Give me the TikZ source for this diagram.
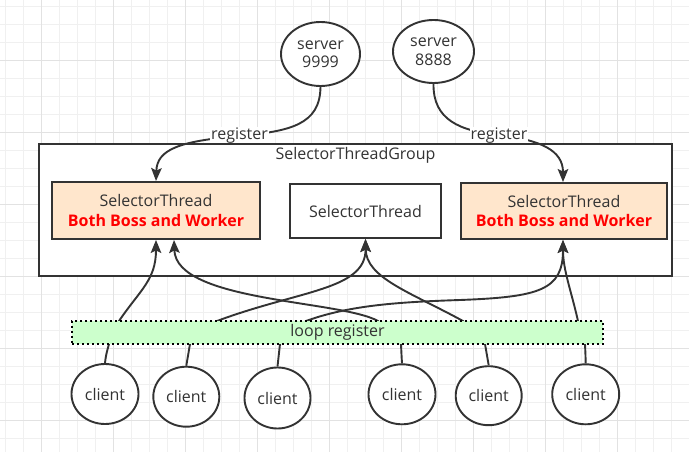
\documentclass[tikz,border=0pt]{standalone}
\usepackage{fontspec}
\setmainfont{Open Sans}
\usetikzlibrary{arrows.meta,shapes.geometric}
\definecolor{linec}{HTML}{333333}
\definecolor{txtc}{HTML}{333333}
\definecolor{orangef}{HTML}{FFE6CC}
\definecolor{greenf}{HTML}{CCFFCC}
\definecolor{gridminor}{HTML}{F0F0F0}
\definecolor{gridmajor}{HTML}{E2E2E2}
\begin{document}
\begin{tikzpicture}[x=1pt,y=-1pt,
  every node/.style={font=\fontsize{16}{18.5}\selectfont, text=txtc, align=center, inner sep=0pt},
  ln/.style={draw=linec, line width=1.9pt},
  arr/.style={ln, -{Stealth[length=13pt,width=10.5pt,inset=2.5pt]}},
  ell/.style={ellipse, draw=linec, line width=1.9pt, fill=white},
  obox/.style={rectangle, draw=linec, line width=1.9pt, fill=orangef},
  wbox/.style={rectangle, draw=linec, line width=1.9pt, fill=white},
  lbl/.style={fill=white, inner xsep=1pt, minimum height=16pt},
]
\useasboundingbox (0,0) rectangle (689,452);
\fill[white] (0,0) rectangle (689,452);
% grid
\foreach \i in {0,...,38} \draw[gridminor, line width=1pt] ({5.3+18*\i},0) -- ({5.3+18*\i},452);
\foreach \i in {0,...,24} \draw[gridminor, line width=1pt] (0,{6.3+18*\i}) -- (689,{6.3+18*\i});
\foreach \i in {0,...,8} \draw[gridmajor, line width=1pt] ({41.3+72*\i},0) -- ({41.3+72*\i},452);
\foreach \i in {0,...,5} \draw[gridmajor, line width=1pt] (0,{60.3+72*\i}) -- (689,{60.3+72*\i});

% group
\node[wbox, minimum width=633pt, minimum height=132pt] (grp) at (355.5,210) {};
\node (grpt) at (355.5,155.5) {SelectorThreadGroup};

% thread boxes
\node[obox, minimum width=208pt, minimum height=57pt] (lt) at (156,210.5)
  {SelectorThread\\[1pt]\textcolor{red}{\bfseries Both Boss and Worker}};
\node[wbox, minimum width=151pt, minimum height=54pt] (mt) at (365.5,211) {SelectorThread};
\node[obox, minimum width=206pt, minimum height=56pt] (rt) at (564,211)
  {SelectorThread\\[1pt]\textcolor{red}{\bfseries Both Boss and Worker}};

% servers
\node[ell, minimum width=79pt, minimum height=64pt] (s1) at (320.5,54) {server\\9999};
\node[ell, minimum width=81pt, minimum height=63pt] (s2) at (433.5,51.5) {server\\8888};

% clients
\node[ell, minimum width=67pt, minimum height=60pt] (c1) at (105,394) {client};
\node[ell, minimum width=66pt, minimum height=60pt] (c2) at (186.3,396.7) {client};
\node[ell, minimum width=66pt, minimum height=61pt] (c3) at (277.5,398) {client};
\node[ell, minimum width=67pt, minimum height=60pt] (c4) at (402,394.3) {client};
\node[ell, minimum width=66pt, minimum height=59pt] (c5) at (488.7,395.7) {client};
\node[ell, minimum width=67pt, minimum height=60pt] (c6) at (585.7,394.3) {client};

% server edges
\draw[arr] (s1.south) .. controls (320,125) and (290,131) .. (240,136)
  .. controls (178,141) and (157,150) .. (lt.north);
\draw[arr] (s2.south) .. controls (433,120) and (460,131) .. (499,135)
  .. controls (540,140) and (563,150) .. (rt.north -| 563,0);
\node[lbl] (r1) at (239.5,135.5) {register};
\node[lbl] (r2) at (499,135.5) {register};

% client edges
\draw[arr] (c1.north) .. controls (106,355) .. (109,344) -- (119,321)
  .. controls (140,290) and (156,280) .. (lt.south);
\draw[arr] (c2.north) .. controls (188,355) .. (190,344) -- (217,321)
  .. controls (300,290) and (366,290) .. (mt.south);
\draw[arr] (c3.north) .. controls (279,355) .. (280,344) -- (306,321)
  .. controls (350,305) and (400,302) .. (460,300)
  .. controls (540,297) and (563,290) .. (rt.south -| 563,0);
\draw[arr] (c4.north) .. controls (401.5,355) .. (401,344) -- (378,321)
  .. controls (340,300) and (176,302) .. ([xshift=18pt]lt.south);
\draw[arr] (c5.north) .. controls (487,355) .. (485,344) -- (463,321)
  .. controls (410,292) and (366,278) .. (mt.south);
\draw[arr] (c6.north) .. controls (585.5,355) .. (585,344) -- (578,321)
  .. controls (571,290) and (563,270) .. (rt.south -| 563,0);

% loop register
\node[rectangle, fill=greenf, draw=black, line width=2.4pt, dash pattern=on 2.2pt off 2.8pt,
  minimum width=531pt, minimum height=23pt] (loop) at (337.5,332.5) {loop register};
\end{tikzpicture}
\end{document}
